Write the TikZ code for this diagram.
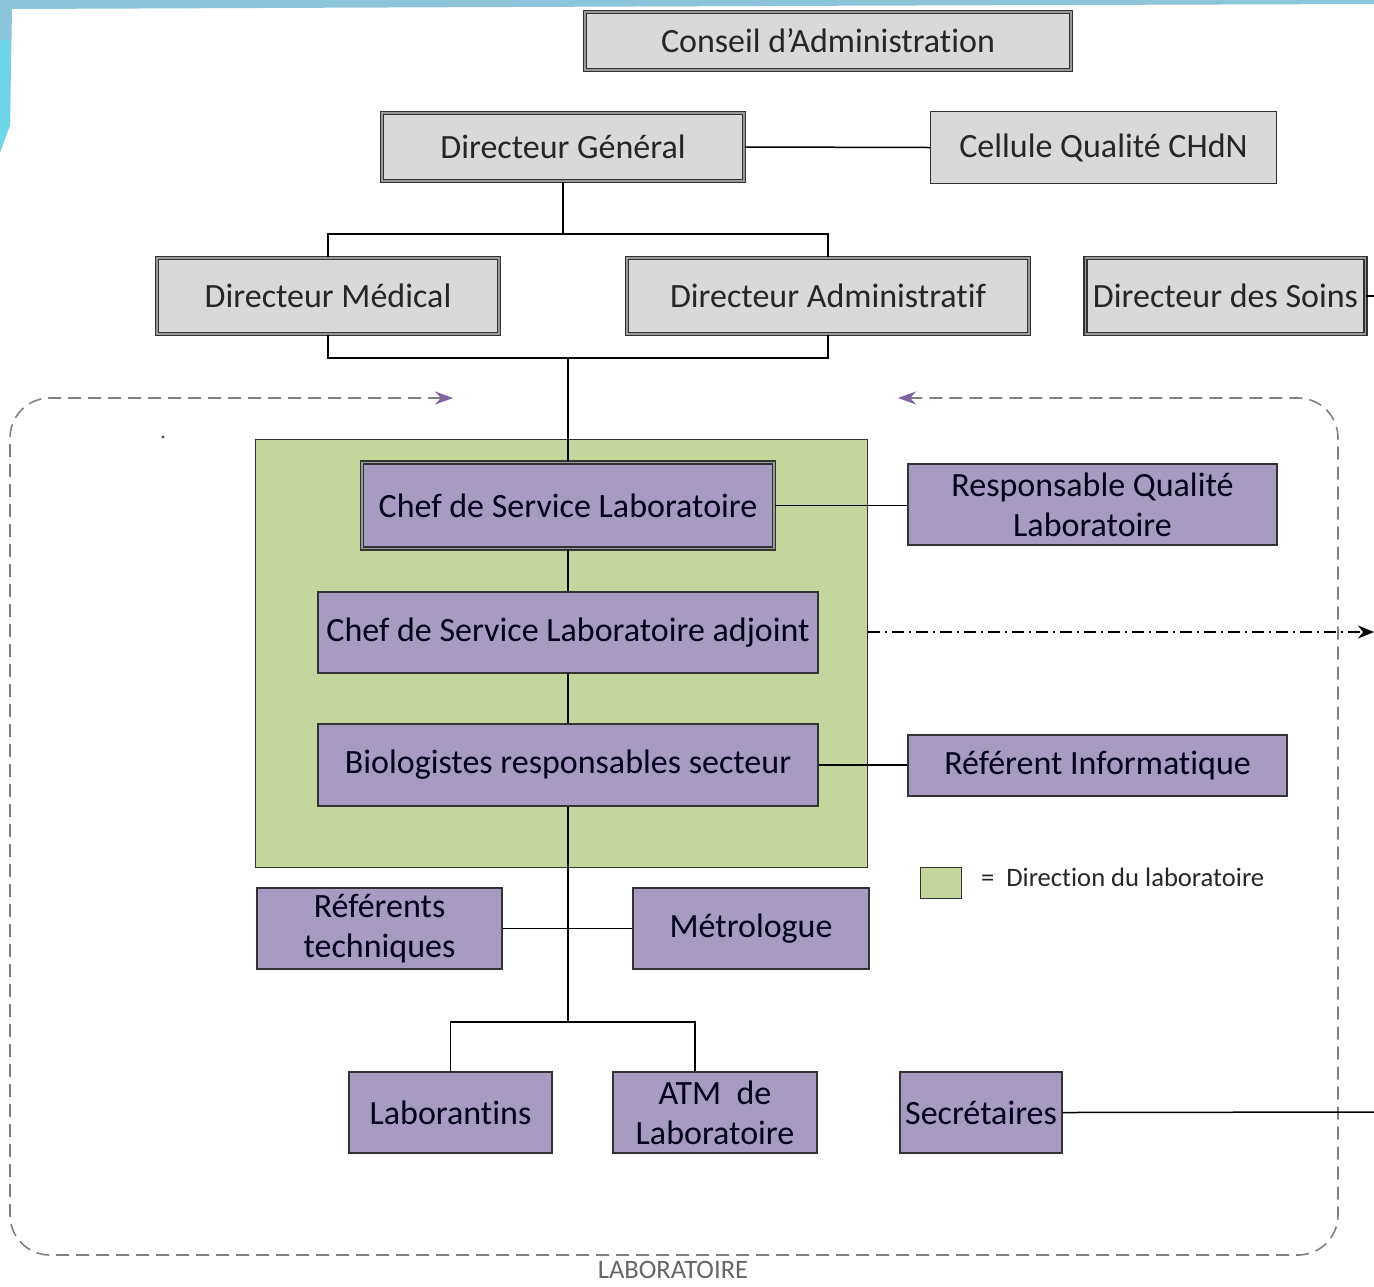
\documentclass[tikz,border=0pt]{standalone}
\usepackage{fontspec}
\setmainfont[RawFeature=-liga]{Carlito}
\usetikzlibrary{arrows.meta}

\definecolor{boxgray}{RGB}{217,217,217}
\definecolor{boxpurple}{RGB}{167,155,193}
\definecolor{labgreen}{RGB}{196,214,156}
\definecolor{framegray}{RGB}{128,128,128}
\definecolor{tippurple}{RGB}{128,100,162}
\definecolor{slideblue}{RGB}{140,196,220}
\definecolor{slidecyan}{RGB}{110,212,232}
\newcommand{\boxfont}{\fontsize{17}{20}\selectfont}
\newcommand{\legfont}{\fontsize{13.3}{15}\selectfont}

\begin{document}
\begin{tikzpicture}[x=0.5pt, y=-0.5pt,
	box/.style={draw=black!80, line width=0.7pt, text=black!85, font=\boxfont, align=center, inner sep=0pt},
	dirbox/.style={box, fill=boxgray},
	labbox/.style={box, fill=boxpurple, text=black!90!blue},
	dbl/.style={double=black!40, double distance=0.9pt},
	link/.style={draw=black, line width=0.75pt},
	frame/.style={draw=framegray, line width=0.8pt, dash pattern=on 6.5pt off 3.5pt, rounded corners=20pt}]

	\useasboundingbox (0,0) rectangle (1374,1286);
	\fill[slideblue] (0,0) -- (1374,0) -- (1374,4) -- (760,6) -- (12,9) -- (10,125) -- (0,152) -- cycle;
	\fill[slidecyan] (0,40) -- (10,40) -- (10,125) -- (0,152) -- cycle;

	% direction
	\node[dirbox, dbl, minimum width=243pt, minimum height=29pt] (ca) at (828,41) {Conseil d’Administration};
	\node[dirbox, dbl, minimum width=181pt, minimum height=34pt] (dg) at (563,147) {Directeur Général};
	\node[dirbox, minimum width=173pt, minimum height=36pt] (cq) at (1103.5,147.5) {Cellule Qualité CHdN};
	\node[dirbox, dbl, minimum width=171pt, minimum height=38pt] (dm) at (328,296) {Directeur Médical};
	\node[dirbox, dbl, minimum width=201pt, minimum height=38pt] (da) at (828,296) {Directeur Administratif};
	\node[dirbox, dbl, minimum width=140pt, minimum height=38pt] (ds) at (1225.5,296) {Directeur des Soins};

	\coordinate (dsout) at (1374,296);
	\coordinate (dgbus) at (563,234);
	\coordinate (dirbus) at (568,358);

	\draw[link] (dg.east) -- (cq.west);
	\draw[link] (dg.south) -- (dgbus);
	\draw[link] (dgbus) -| (dm.north);
	\draw[link] (dgbus) -| (da.north);
	\draw[link] (dm.south) |- (dirbus) -| (da.south);
	\draw[link] (ds.east) -- (dsout);

	% laboratoire
	\draw[frame, {Stealth[length=9pt, width=6.5pt, color=tippurple]}-{Stealth[length=9pt, width=6.5pt, color=tippurple]}]
		(898,398) -- (1338,398) -- (1338,1255) -- (10,1255) -- (10,398) -- (453,398);
	\node[text=black!60, font=\legfont] (labtitle) at (673,1270) {LABORATOIRE};
	\fill[black!70] (163,437) circle (0.8pt);

	\node[draw=black!80, line width=0.7pt, fill=labgreen, minimum width=306pt, minimum height=214pt] (dirlab) at (561.5,653.5) {};
	\node[draw=black!80, line width=0.7pt, fill=labgreen, minimum width=20.5pt, minimum height=15.5pt] (leg) at (941,883) {};
	\node[anchor=west, font=\legfont, text=black!85] (legtxt) at (974,877) {=\ \ Direction du laboratoire};

	\node[labbox, dbl, minimum width=206pt, minimum height=43pt] (chef) at (568,505.5) {Chef de Service Laboratoire};
	\node[labbox, minimum width=250pt, minimum height=40.5pt] (adj) at (568,632.5) {Chef de Service Laboratoire adjoint};
	\node[labbox, minimum width=250pt, minimum height=41pt] (bio) at (568,765) {Biologistes responsables secteur};
	\node[labbox, minimum width=184.5pt, minimum height=40.5pt] (rq) at (1092.5,504.5) {Responsable Qualité\\Laboratoire};
	\node[labbox, minimum width=189.5pt, minimum height=30.5pt] (ri) at (1097.5,765.5) {\raisebox{-2pt}{Référent Informatique}};
	\node[labbox, minimum width=122.5pt, minimum height=40.5pt] (rt) at (379.5,928.5) {Référents\\techniques};
	\node[labbox, minimum width=118pt, minimum height=40.5pt] (metro) at (751,928.5) {Métrologue};
	\node[labbox, minimum width=101.5pt, minimum height=40.5pt] (labo) at (450.5,1112.5) {Laborantins};
	\node[labbox, minimum width=102pt, minimum height=40.5pt] (atm) at (715,1112.5) {ATM\ \ de\\Laboratoire};
	\node[labbox, minimum width=81pt, minimum height=40.5pt] (sec) at (981,1112.5) {Secrétaires};

	\coordinate (adjout) at (1374,632);
	\coordinate (secout) at (1374,1112);
	\coordinate (techbus) at (568,1022);

	\draw[link] (chef.north) -- (chef.north |- dirbus);
	\draw[link] (chef.south) -- (adj.north);
	\draw[link] (adj.south) -- (bio.north);
	\draw[link] (chef.east) -- (rq.west |- chef.east);
	\draw[link] (bio.east) -- (ri.west |- bio.east);
	\draw[link] (bio.south) -- (techbus);
	\draw[link] (rt.east) -- (metro.west);
	\draw[link] (labo.north) |- (techbus);
	\draw[link] ([xshift=-10pt]atm.north) |- (techbus);
	\draw[link] (sec.east) -- (secout);
	\draw[link, dash pattern=on 6pt off 2.5pt on 1pt off 2.5pt, -{Stealth[length=8pt, width=6.5pt]}] (dirlab.east |- adjout) -- (adjout);

\end{tikzpicture}
\end{document}
